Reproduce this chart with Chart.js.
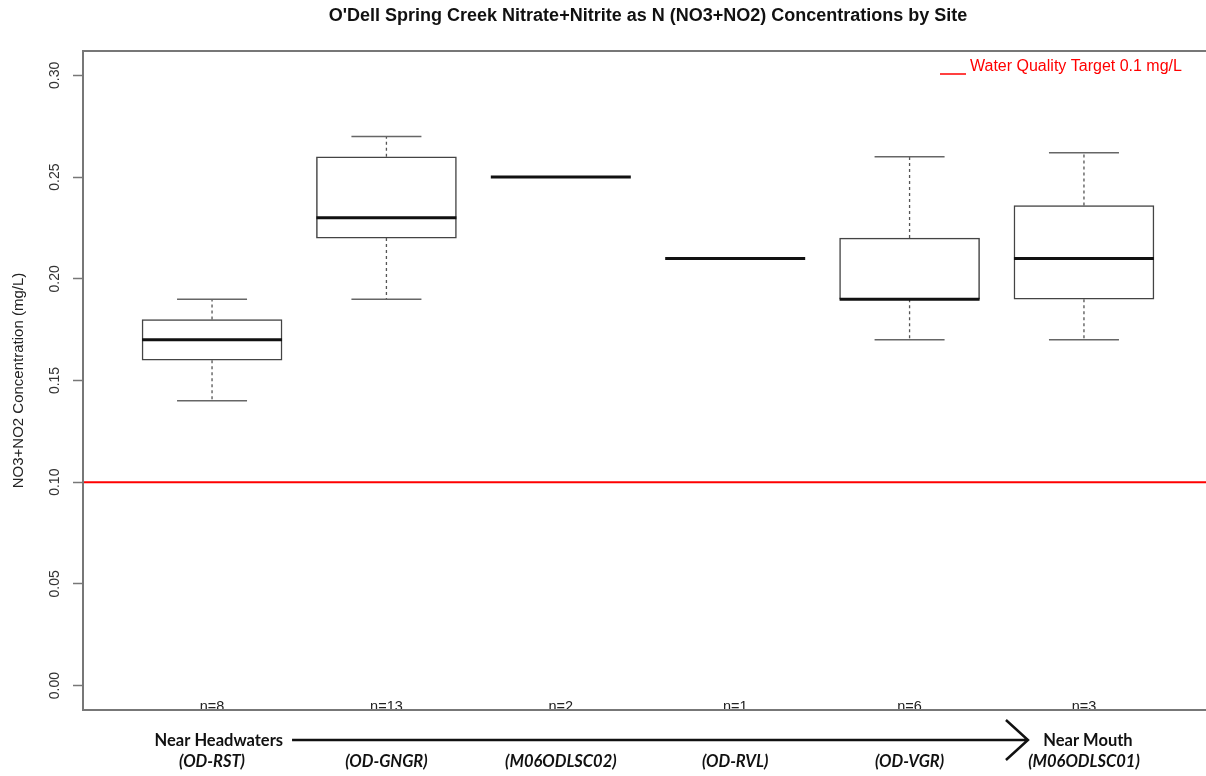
<!DOCTYPE html>
<html>
<head>
<meta charset="utf-8">
<script src="https://cdn.jsdelivr.net/npm/chart.js@4/dist/chart.umd.min.js"></script>
<style>
  html, body { margin: 0; padding: 0; background: #fff; overflow: hidden; }
  #wrap { width: 1214px; height: 776px; }
</style>
</head>
<body>
<div id="wrap"><canvas id="chart" width="1214" height="776"></canvas></div>
<script>
// site codes along the creek, headwaters -> mouth
const sites = ['(OD-RST)', '(OD-GNGR)', '(M06ODLSC02)', '(OD-RVL)', '(OD-VGR)', '(M06ODLSC01)'];
const counts = [8, 13, 2, 1, 6, 3];

// box plot stats (mg/L)
const whiskerLow  = [0.14, 0.19, 0.25, 0.21, 0.17, 0.17];
const q1          = [0.16, 0.22, 0.25, 0.21, 0.19, 0.19];
const median      = [0.17, 0.23, 0.25, 0.21, 0.19, 0.21];
const q3          = [0.18, 0.26, 0.25, 0.21, 0.22, 0.236];
const whiskerHigh = [0.19, 0.27, 0.25, 0.21, 0.26, 0.262];

const target = 0.1;
const yTicks = [0, 0.05, 0.10, 0.15, 0.20, 0.25, 0.30];

const positions = sites.map((s, i) => i + 1);
const SANS = '"Liberation Sans", Arial, sans-serif';
const LABEL = 'Lato, "Open Sans", sans-serif';

Chart.defaults.font.family = SANS;
Chart.defaults.color = '#222';

const boxPlot = {
    id: 'boxPlot',
    beforeDatasetsDraw(chart) {
        const { ctx, chartArea: a, scales: { y } } = chart;
        // target line
        const ty = y.getPixelForValue(target);
        ctx.save();
        ctx.strokeStyle = '#ff0000';
        ctx.lineWidth = 2;
        ctx.beginPath();
        ctx.moveTo(a.left, ty);
        ctx.lineTo(a.right, ty);
        ctx.stroke();
        ctx.restore();
    },
    afterDatasetsDraw(chart) {
        const { ctx, scales: { x, y } } = chart;
        const half = 70, cap = 35;
        ctx.save();
        positions.forEach((p, i) => {
            const cx = x.getPixelForValue(p);
            // whiskers
            ctx.strokeStyle = '#555';
            ctx.lineWidth = 1.3;
            ctx.setLineDash([3, 3]);
            ctx.beginPath();
            ctx.moveTo(cx, y.getPixelForValue(q3[i]));
            ctx.lineTo(cx, y.getPixelForValue(whiskerHigh[i]));
            ctx.moveTo(cx, y.getPixelForValue(q1[i]));
            ctx.lineTo(cx, y.getPixelForValue(whiskerLow[i]));
            ctx.stroke();
            ctx.setLineDash([]);
            // caps
            ctx.strokeStyle = '#666';
            ctx.lineWidth = 1.5;
            ctx.beginPath();
            [whiskerHigh[i], whiskerLow[i]].forEach(v => {
                const py = y.getPixelForValue(v);
                ctx.moveTo(cx - cap, py);
                ctx.lineTo(cx + cap, py);
            });
            ctx.stroke();
            // median
            const my = y.getPixelForValue(median[i]);
            ctx.strokeStyle = '#111';
            ctx.lineWidth = 3;
            ctx.beginPath();
            ctx.moveTo(cx - half, my);
            ctx.lineTo(cx + half, my);
            ctx.stroke();
            // n=
            ctx.fillStyle = '#222';
            ctx.font = '14.5px ' + SANS;
            ctx.textAlign = 'center';
            ctx.textBaseline = 'alphabetic';
            ctx.fillText('n=' + counts[i], cx, chart.chartArea.bottom + 1);
        });
        ctx.restore();
    },
    afterDraw(chart) {
        const { ctx, chartArea: a, scales: { x, y } } = chart;
        ctx.save();
        // frame
        ctx.strokeStyle = '#777';
        ctx.lineWidth = 2;
        ctx.strokeRect(a.left, a.top, a.right - a.left, a.bottom - a.top);

        // y tick labels, rotated like R
        ctx.fillStyle = '#333';
        ctx.font = '14px ' + SANS;
        ctx.textAlign = 'center';
        ctx.textBaseline = 'middle';
        yTicks.forEach(v => {
            ctx.save();
            ctx.translate(a.left - 28, y.getPixelForValue(v));
            ctx.rotate(-Math.PI / 2);
            ctx.fillText(v.toFixed(2), 0, 0);
            ctx.restore();
        });

        // legend
        ctx.fillStyle = '#ff0000';
        ctx.font = '16px ' + SANS;
        ctx.textAlign = 'left';
        ctx.textBaseline = 'middle';
        ctx.fillText('Water Quality Target 0.1 mg/L', 970, 67);
        ctx.strokeStyle = '#ff0000';
        ctx.lineWidth = 1.5;
        ctx.beginPath();
        ctx.moveTo(940, 74);
        ctx.lineTo(966, 74);
        ctx.stroke();

        // headwaters -> mouth arrow
        const x1 = x.getPixelForValue(positions[0]);
        const x6 = x.getPixelForValue(positions[positions.length - 1]);
        const ay = 740;
        ctx.fillStyle = '#111';
        ctx.font = 'bold 16.5px ' + LABEL;
        ctx.textAlign = 'right';
        ctx.fillText('Near Headwaters', x1 + 71, ay + 1);
        ctx.textAlign = 'center';
        ctx.fillText('Near Mouth', x6 + 4, ay + 1);
        ctx.strokeStyle = '#111';
        ctx.lineWidth = 2.5;
        ctx.beginPath();
        ctx.moveTo(x1 + 80, ay);
        ctx.lineTo(x6 - 56, ay);
        ctx.moveTo(x6 - 78, ay - 20);
        ctx.lineTo(x6 - 56, ay);
        ctx.lineTo(x6 - 78, ay + 20);
        ctx.stroke();
        ctx.restore();
    }
};

new Chart(document.getElementById('chart'), {
    type: 'bar',
    data: {
        datasets: [{
            data: positions.map((p, i) => ({ x: p, y: [q1[i], q3[i]] })),
            backgroundColor: '#ffffff',
            borderColor: '#444',
            borderWidth: 1.5,
            borderSkipped: false,
            barThickness: 140,
            grouped: false
        }]
    },
    options: {
        responsive: false,
        animation: false,
        layout: { padding: { left: 0, right: 1, top: 0, bottom: 0 } },
        plugins: {
            legend: { display: false },
            tooltip: { enabled: false },
            title: {
                display: true,
                fullSize: false,
                text: "O'Dell Spring Creek Nitrate+Nitrite as N (NO3+NO2) Concentrations by Site",
                font: { size: 18, weight: 'bold', family: SANS, lineHeight: 1.2 },
                color: '#111',
                padding: { top: 5, bottom: 24.4 }
            }
        },
        scales: {
            x: {
                type: 'linear',
                min: 0.26,
                max: 6.74,
                offset: false,
                grid: { display: false, drawTicks: false },
                border: { display: false },
                afterBuildTicks: s => { s.ticks = positions.map(v => ({ value: v })); },
                afterFit: s => { s.height = 66; },
                ticks: {
                    autoSkip: false,
                    maxRotation: 0,
                    padding: 42,
                    color: '#111',
                    font: { family: LABEL, size: 16.5, weight: 'bold', style: 'italic' },
                    callback: v => sites[v - 1]
                }
            },
            y: {
                min: -0.012,
                max: 0.312,
                afterBuildTicks: s => { s.ticks = yTicks.map(v => ({ value: v })); },
                afterFit: s => { s.width = 83; },
                grid: {
                    drawOnChartArea: false,
                    drawTicks: true,
                    tickLength: 10,
                    tickColor: '#777',
                    tickWidth: 1.5
                },
                border: { display: false },
                ticks: { display: false },
                title: {
                    display: true,
                    text: 'NO3+NO2 Concentration (mg/L)',
                    font: { size: 15 },
                    color: '#222',
                    padding: { top: 10, bottom: 0 }
                }
            }
        }
    },
    plugins: [boxPlot]
});
</script>
</body>
</html>
